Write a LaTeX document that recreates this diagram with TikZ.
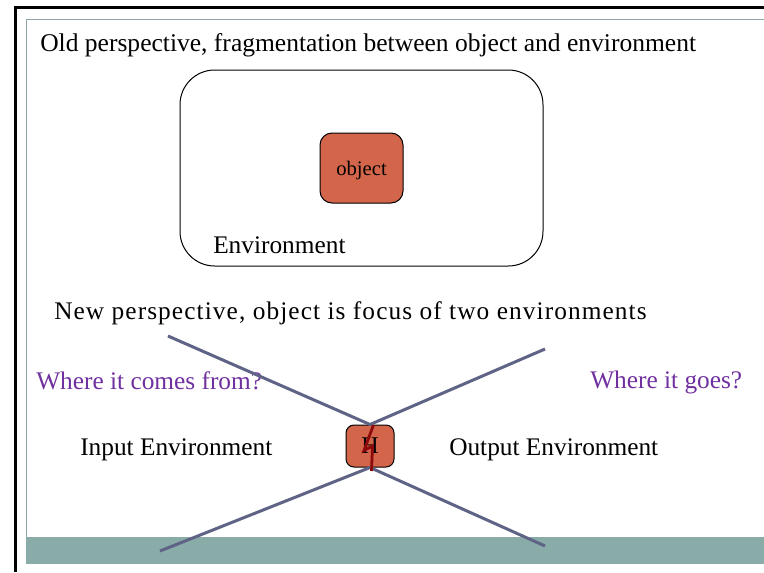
\documentclass[tikz,border=0pt]{standalone}
\usepackage{fontspec}
\setmainfont{Liberation Serif}
\begin{document}
\begin{tikzpicture}[x=0.75pt,y=-0.75pt,
  caption/.style={anchor=base west, inner sep=0pt, font=\fontsize{19}{22}\selectfont},
  question/.style={caption, text=askpurple},
  envbox/.style={draw, line width=0.75pt, rounded corners=26pt, minimum width=272.25pt, minimum height=147pt, inner sep=0pt},
  objbox/.style={draw, line width=0.75pt, fill=objred, rounded corners=9pt, inner sep=0pt},
  flowline/.style={draw=linegray, line width=2.25pt}]
\definecolor{bandteal}{HTML}{8AACA9}
\definecolor{framegray}{HTML}{8FA6A8}
\definecolor{objred}{HTML}{D3654B}
\definecolor{linegray}{HTML}{5F6486}
\definecolor{askpurple}{HTML}{7030A0}
\definecolor{boltred}{HTML}{8E0A0A}
\useasboundingbox (0,0) rectangle (764,572);
\fill[white] (0,0) rectangle (764,572);

% slide frame and footer band
\fill[bandteal] (26,537) rectangle (764,564);
\draw[framegray, line width=0.75pt] (26.5,537) -- (26.5,19) -- (764,19);
\draw[line width=2.25pt] (15,572) -- (15,7.5) -- (764,7.5);

% old perspective
\node[caption, font=\fontsize{19.15}{22}\selectfont] (oldtitle) at (40,51) {Old perspective, fragmentation between object and environment};
\node[envbox] (env) at (361.5,168) {};
\node[objbox, minimum width=62.25pt, minimum height=52.5pt, text depth=0pt, font=\fontsize{15.5}{18}\selectfont] (obj) at (361.5,168) {object};
\node[caption] (envlabel) at (213,253) {Environment};

% new perspective
\node[caption, font=\fontsize{19}{22}\selectfont\addfontfeature{LetterSpace=4.3}] (newtitle) at (54,319) {New perspective, object is focus of two environments};
\node[question] (from) at (36,389) {Where it comes from?};
\node[question] (goes) at (590,388) {Where it goes?};
\node[caption] (inenv) at (80,455) {Input Environment};
\node[caption] (outenv) at (449,455) {Output Environment};

\node[objbox, minimum width=36pt, minimum height=31.5pt, rounded corners=6pt, font=\fontsize{18}{20}\selectfont] (hub) at (370,446) {H};

\coordinate (inTop) at (168,336);
\coordinate (outTop) at (545,349);
\coordinate (inBot) at (160,551);
\coordinate (outBot) at (545,546);
\draw[flowline] (inTop) -- (hub.north) -- (outTop);
\draw[flowline] (inBot) -- (hub.south) -- (outBot);

% lightning bolt across the hub
\draw[boltred, line width=2.1pt, line join=miter] (373.5,425) -- (364,450.5) -- (372.5,446) -- (371.5,471);
\end{tikzpicture}
\end{document}
